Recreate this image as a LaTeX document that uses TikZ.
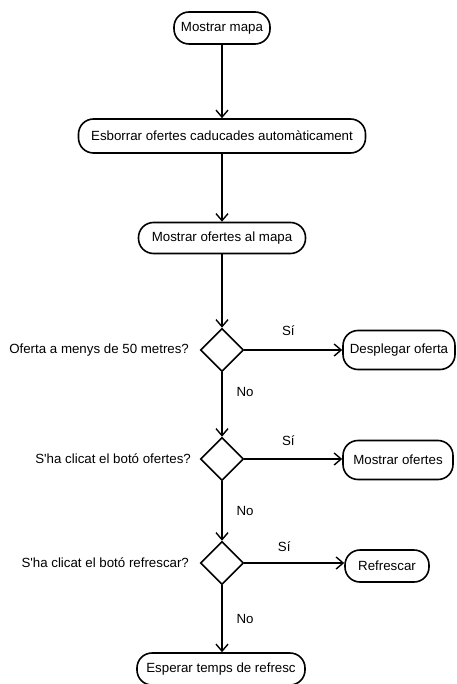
\documentclass[tikz,border=0pt]{standalone}
\usepackage{fontspec}
\setmainfont{Liberation Sans}
\usetikzlibrary{shapes.geometric,arrows.meta}
\begin{document}
\begin{tikzpicture}[x=1pt,y=-1pt,
  font=\fontsize{13.3}{15}\selectfont,
  every path/.style={line width=1.6pt},
  action/.style={draw, rectangle, rounded corners=15pt, align=center, inner sep=0pt, fill=white},
  decision/.style={draw, diamond, minimum size=43pt, inner sep=0pt, aspect=1},
  question/.style={anchor=east, inner sep=0pt},
  lbl/.style={inner sep=0pt},
  flow/.style={-{Straight Barb[length=7pt,width=12pt,line width=1.4pt]}}
]
\useasboundingbox (0,0) rectangle (456,684);

% main column
\node[action, minimum width=96pt, minimum height=32pt] (map) at (222,28) {Mostrar mapa};
\node[action, minimum width=287pt, minimum height=34pt] (clean) at (222,136) {Esborrar ofertes caducades automàticament};
\node[action, minimum width=167pt, minimum height=31pt] (show) at (222,238) {Mostrar ofertes al mapa};

% decisions
\node[decision] (dnear) at (222,350) {};
\node[decision] (doffers) at (222,459) {};
\node[decision] (drefresh) at (222,563) {};

\node[question] (qnear) at ([xshift=-10pt]dnear.west) {Oferta a menys de 50 metres?};
\node[question] (qoffers) at ([xshift=-8pt]doffers.west) {S\textquotesingle ha clicat el botó ofertes?};
\node[question] (qrefresh) at ([xshift=-10pt]drefresh.west) {S\textquotesingle ha clicat el botó refrescar?};

% outcomes
\node[action, minimum width=112pt, minimum height=39pt] (unfold) at (399,350) {Desplegar oferta};
\node[action, minimum width=110pt, minimum height=39pt] (list) at (398,460) {Mostrar ofertes};
\node[action, minimum width=84pt, minimum height=32pt] (refresh) at (387,566) {Refrescar};
\node[action, minimum width=168pt, minimum height=32pt] (wait) at (221,669) {Esperar temps de refresc};

% connectors
\draw[flow] (map) -- (clean);
\draw[flow] (clean) -- (show);
\draw[flow] (show) -- (dnear);

\draw[flow] (dnear.east) -- node[lbl, pos=0.45, yshift=19pt] (ynear) {Sí} (dnear.east -| unfold.west);
\draw[flow] (dnear.south) -- node[lbl, pos=0.31, xshift=23pt] (nnear) {No} (doffers.north);

\draw[flow] (doffers.east) -- node[lbl, pos=0.45, yshift=18pt] (yoffers) {Sí} (doffers.east -| list.west);
\draw[flow] (doffers.south) -- node[lbl, pos=0.5, xshift=23pt] (noffers) {No} (drefresh.north);

\draw[flow] (drefresh.east) -- node[lbl, pos=0.4, yshift=16pt] (yrefresh) {Sí} (drefresh.east -| refresh.west);
\draw[flow] (drefresh.south) -- node[lbl, pos=0.5, xshift=23pt] (nrefresh) {No} (drefresh.south |- wait.north);
\end{tikzpicture}
\end{document}
